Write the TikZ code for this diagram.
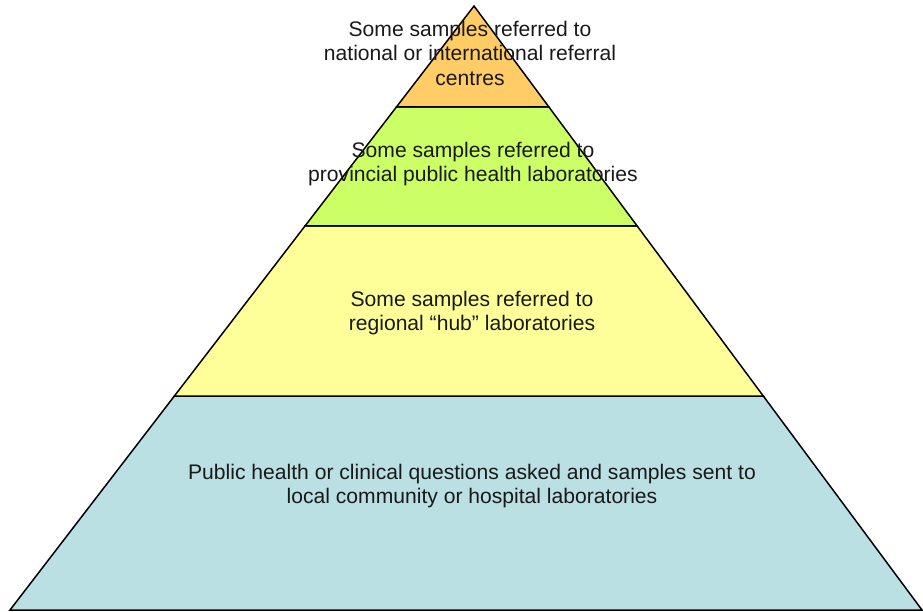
\documentclass[tikz,border=0pt]{standalone}
\usepackage{fontspec}
\setmainfont{Liberation Sans}
\usetikzlibrary{calc}

\definecolor{tierorange}{HTML}{FFCC66}
\definecolor{tiergreen}{HTML}{CCFF66}
\definecolor{tieryellow}{HTML}{FFFF99}
\definecolor{tierblue}{HTML}{BBE0E3}

\begin{document}
\begin{tikzpicture}[x=1pt,y=-1pt]
		\tikzset{tier/.style={draw=black,line width=1.5pt,line join=miter}};
		\tikzset{tiertext/.style={align=center,font=\fontsize{21.1}{24.5}\selectfont,text=black!90}};
		\useasboundingbox (0,0) rectangle (923,612);
		% corners of the pyramid
		\coordinate (apex) at (474,6);
		\coordinate (bl) at (10,610);
		\coordinate (br) at (922,610);
		% band edges
		\coordinate (l1) at ($(apex)!0.167!(bl)$);
		\coordinate (r1) at ($(apex)!0.167!(br)$);
		\coordinate (l2) at ($(apex)!0.364!(bl)$);
		\coordinate (r2) at ($(apex)!0.364!(br)$);
		\coordinate (l3) at ($(apex)!0.646!(bl)$);
		\coordinate (r3) at ($(apex)!0.646!(br)$);
		
		\filldraw[tier,fill=tierblue] (l3) -- (r3) -- (br) -- (bl) -- cycle;
		\filldraw[tier,fill=tieryellow] (l2) -- (r2) -- (r3) -- (l3) -- cycle;
		\filldraw[tier,fill=tiergreen] (l1) -- (r1) -- (r2) -- (l2) -- cycle;
		\filldraw[tier,fill=tierorange] (apex) -- (r1) -- (l1) -- cycle;
		
		\node[tiertext] (national) at (470,53) {Some samples referred to\\national or international referral\\centres};
		\node[tiertext] (provincial) at (473,164) {Some samples referred to\\provincial public health laboratories};
		\node[tiertext] (regional) at (472,313) {Some samples referred to\\regional “hub” laboratories};
		\node[tiertext] (local) at (472,486) {Public health or clinical questions asked and samples sent to\\local community or hospital laboratories};
	\end{tikzpicture}
\end{document}
